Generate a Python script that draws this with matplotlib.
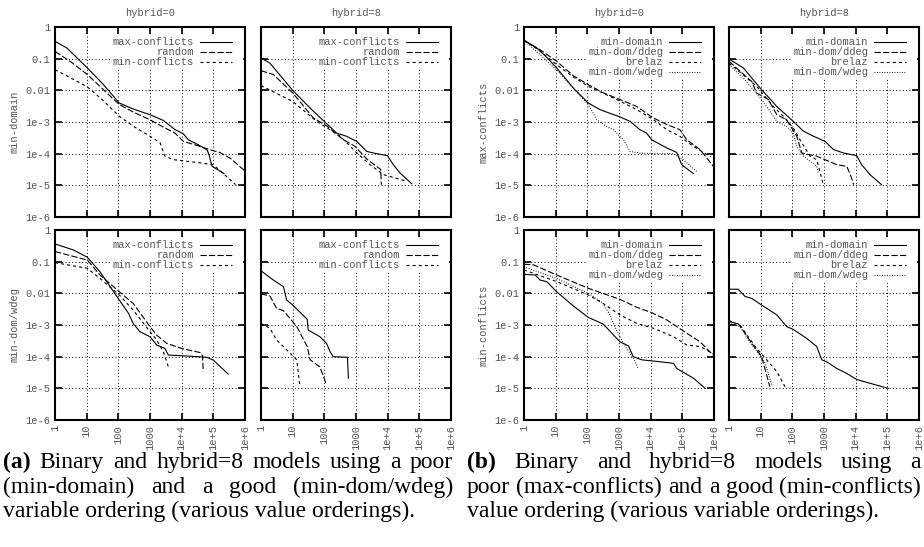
import matplotlib
matplotlib.use("Agg")
import matplotlib.pyplot as plt
import numpy as np
from matplotlib.patches import Rectangle

plt.rcParams['lines.scale_dashes'] = False

# curves, as (log10 x, log10 y) pairs
# (a) value orderings, variable ordering min-domain (top) / min-dom/wdeg (bottom)
a_dom_h0_maxc = [(0,-0.45),(0.37,-0.66),(1.02,-1.29),(1.53,-1.82),(2.03,-2.40),(2.47,-2.59),(3.0,-2.77),(3.42,-2.95),(3.79,-3.24),(4.05,-3.37),(4.21,-3.56),(4.58,-3.75),(4.81,-3.89),(4.87,-4.06),(4.96,-4.40),(5.34,-4.63)]
a_dom_h0_rand = [(0,-0.77),(0.5,-1.1),(1.02,-1.5),(1.5,-1.95),(2.03,-2.45),(2.5,-2.7),(3.0,-2.93),(3.4,-3.15),(3.79,-3.35),(4.05,-3.61),(4.58,-3.77),(5.0,-3.91),(5.2,-3.96),(5.53,-4.14),(6.0,-4.55)]
a_dom_h0_minc = [(0,-1.35),(0.37,-1.54),(1.02,-1.89),(1.5,-2.3),(2.03,-2.82),(2.5,-3.15),(3.0,-3.45),(3.32,-3.66),(3.47,-4.08),(3.74,-4.19),(4.58,-4.29),(5.0,-4.35),(5.53,-4.82),(5.7,-4.98)]

a_dom_h8_maxc = [(0,-0.98),(0.28,-1.14),(1.0,-2.0),(1.55,-2.56),(2.07,-3.05),(2.39,-3.35),(2.7,-3.45),(3.02,-3.61),(3.34,-3.93),(3.65,-4.0),(3.99,-4.06),(4.18,-4.35),(4.39,-4.61),(4.76,-4.95)]
a_dom_h8_rand = [(0,-1.38),(0.39,-1.5),(1.0,-2.08),(1.65,-2.87),(2.07,-3.12),(2.6,-3.56),(2.97,-3.77),(3.34,-4.17),(3.65,-4.4),(3.78,-4.5),(3.8,-4.98)]
a_dom_h8_minc = [(0,-1.85),(1.0,-2.35),(1.76,-2.98),(2.5,-3.45),(3.03,-3.98),(3.45,-4.35),(3.86,-4.66),(4.6,-4.87)]

a_wdeg_h0_maxc = [(0,-0.44),(0.58,-0.63),(1.02,-0.86),(1.42,-1.32),(2.03,-2.21),(2.32,-2.63),(2.47,-2.95),(2.68,-3.21),(3.0,-3.37),(3.21,-3.63),(3.47,-3.74),(3.58,-3.95),(4.0,-3.97),(4.79,-4.02),(5.0,-4.11),(5.47,-4.55)]
a_wdeg_h0_rand = [(0,-0.68),(1.02,-0.95),(1.42,-1.42),(2.03,-1.95),(2.47,-2.32),(3.0,-3.05),(3.21,-3.32),(3.53,-3.58),(4.0,-3.74),(4.58,-3.87),(4.66,-3.97),(4.68,-4.47)]
a_wdeg_h0_minc = [(0,-1.03),(1.02,-1.21),(1.42,-1.53),(2.03,-2.05),(2.47,-2.53),(3.0,-3.21),(3.21,-3.47),(3.42,-3.84),(3.58,-4.32)]

a_wdeg_h8_maxc = [(0,-1.29),(0.39,-1.58),(0.71,-1.79),(0.81,-2.21),(1.0,-2.37),(1.46,-2.82),(1.49,-3.16),(1.86,-3.37),(2.07,-3.58),(2.18,-3.84),(2.28,-4.0),(2.73,-4.02),(2.76,-4.68)]
a_wdeg_h8_rand = [(0,-2.02),(0.28,-2.08),(0.49,-2.47),(0.71,-2.55),(1.13,-3.05),(1.46,-3.68),(1.55,-4.1),(1.86,-4.32),(2.05,-4.84)]
a_wdeg_h8_minc = [(0,-2.95),(0.28,-3.1),(0.49,-3.47),(0.92,-3.89),(1.13,-4.1),(1.23,-4.95)]

# (b) variable orderings, value ordering max-conflicts (top) / min-conflicts (bottom)
b_maxc_h0_dom = [(0,-0.42),(0.4,-0.66),(0.74,-0.98),(1.03,-1.29),(1.56,-1.93),(2.03,-2.4),(2.4,-2.61),(3.03,-2.84),(3.35,-2.98),(3.66,-3.24),(3.87,-3.35),(4.03,-3.56),(4.51,-3.82),(4.82,-3.96),(4.87,-4.08),(4.98,-4.35),(5.35,-4.63)]
b_maxc_h0_ddeg = [(0,-0.42),(0.51,-0.72),(1.03,-1.08),(1.56,-1.54),(2.03,-1.82),(2.5,-2.08),(3.03,-2.29),(3.56,-2.51),(4.08,-2.87),(4.51,-3.08),(4.92,-3.24),(5.14,-3.56),(5.56,-3.87),(5.98,-4.4)]
b_maxc_h0_brelaz = [(0,-0.42),(0.51,-0.76),(1.03,-1.19),(1.56,-1.58),(2.03,-1.87),(3.03,-2.34),(3.56,-2.61),(4.08,-2.92),(4.51,-3.24),(4.92,-3.45),(5.35,-3.77),(5.9,-4.1)]
b_maxc_h0_wdeg = [(0,-0.42),(1.03,-1.35),(2.03,-2.45),(2.3,-2.93),(2.61,-3.14),(2.82,-3.24),(3.14,-3.56),(3.35,-3.93),(3.66,-3.98),(4.08,-4.0),(4.72,-4.0),(5.03,-4.19),(5.45,-4.56)]

b_maxc_h8_dom = [(0,-1.01),(0.45,-1.29),(1.03,-1.98),(1.51,-2.51),(2.03,-2.98),(2.35,-3.29),(2.67,-3.45),(3.03,-3.61),(3.3,-3.87),(3.62,-3.98),(4.03,-4.06),(4.19,-4.35),(4.45,-4.66),(4.82,-4.98)]
b_maxc_h8_ddeg = [(0,-1.08),(0.35,-1.4),(0.72,-1.72),(0.87,-2.08),(1.24,-2.29),(1.51,-2.77),(1.82,-2.93),(2.14,-3.45),(2.3,-3.98),(2.77,-4.08),(3.41,-4.35),(3.72,-4.4),(3.83,-4.66),(3.94,-4.98)]
b_maxc_h8_brelaz = [(0,-1.14),(0.45,-1.51),(0.87,-1.87),(1.40,-2.51),(1.72,-2.82),(2.03,-3.19),(2.24,-3.56),(2.56,-4.08),(2.77,-4.19),(2.98,-4.98)]
b_maxc_h8_wdeg = [(0,-1.19),(0.45,-1.61),(1.03,-2.29),(1.51,-2.98),(1.82,-3.14),(2.03,-3.35),(2.14,-3.77),(2.35,-4.08),(2.77,-4.4),(2.82,-4.61)]

b_minc_h0_dom = [(0,-1.4),(0.35,-1.42),(0.51,-1.58),(0.72,-1.63),(1.03,-1.95),(1.56,-2.4),(2.03,-2.76),(2.5,-2.97),(3.03,-3.53),(3.3,-3.66),(3.45,-4.0),(3.72,-4.1),(4.29,-4.16),(4.72,-4.21),(4.82,-4.37),(5.35,-4.68),(5.72,-5.0)]
b_minc_h0_ddeg = [(0,-1.08),(0.3,-1.1),(1.03,-1.42),(2.03,-1.84),(3.03,-2.19),(3.56,-2.44),(4.03,-2.61),(4.51,-2.84),(5.14,-3.26),(5.56,-3.53),(6.0,-3.98)]
b_minc_h0_brelaz = [(0,-1.26),(1.03,-1.63),(2.03,-2.05),(2.5,-2.32),(3.03,-2.68),(3.56,-2.95),(4.08,-3.1),(4.72,-3.37),(5.14,-3.63),(5.56,-3.68),(6.0,-3.92)]
b_minc_h0_wdeg = [(0,-1.16),(1.03,-1.53),(2.03,-2.0),(2.5,-2.32),(2.71,-2.68),(2.92,-3.16),(3.14,-3.58),(3.45,-4.05),(3.61,-4.37)]

b_minc_h8_dom = [(0,-1.87),(0.29,-1.87),(0.51,-2.1),(0.72,-2.16),(1.03,-2.37),(1.51,-2.68),(1.82,-3.05),(2.03,-3.14),(2.45,-3.42),(2.77,-3.68),(2.93,-4.1),(3.08,-4.16),(3.4,-4.37),(3.72,-4.53),(4.03,-4.72),(4.45,-4.84),(5.03,-5.0)]
b_minc_h8_ddeg = [(0,-2.89),(0.29,-2.96),(0.51,-3.26),(0.72,-3.58),(1.03,-4.0),(1.29,-4.95)]
b_minc_h8_brelaz = [(0,-2.86),(0.35,-3.0),(0.56,-3.31),(0.87,-3.73),(1.19,-4.1),(1.51,-4.47),(1.77,-4.95)]
b_minc_h8_wdeg = [(0,-2.93),(0.35,-3.05),(0.61,-3.47),(0.93,-3.89),(1.14,-4.21),(1.24,-4.52),(1.35,-4.9)]

value_orders = ["max-conflicts", "random", "min-conflicts"]
var_orders = ["min-domain", "min-dom/ddeg", "brelaz", "min-dom/wdeg"]
xticks = [1, 10, 100, 1000, 1e4, 1e5, 1e6]
xlabels = ["1", "10", "100", "1000", "1e+4", "1e+5", "1e+6"]
yticks = [1e-6, 1e-5, 1e-4, 1e-3, 0.01, 0.1, 1]
ylabels = ["1e-6", "1e-5", "1e-4", "1e-3", "0.01", "0.1", "1"]

cap_a = [["(a)", "Binary", "and", "hybrid=8", "models", "using", "a", "poor"],
         ["(min-domain)", "and", "a", "good", "(min-dom/wdeg)"],
         "variable ordering (various value orderings)."]
cap_b = [["(b)", "Binary", "and", "hybrid=8", "models", "using", "a"],
         ["poor", "(max-conflicts)", "and", "a", "good", "(min-conflicts)"],
         "value ordering (various variable orderings)."]

LONG = (0, (4.5, 1.6))
SHORT = (0, (2.2, 2.2))
DOT = (0, (0.6, 1.2))
style = {"max-conflicts": "-", "random": LONG, "min-conflicts": SHORT,
         "min-domain": "-", "min-dom/ddeg": LONG, "brelaz": SHORT, "min-dom/wdeg": DOT}

mono = ["Liberation Mono", "DejaVu Sans Mono"]
serif = ["Liberation Serif", "DejaVu Serif"]
tc = "#555555"
fs = 7.5
W, H = 924, 547
S = 190

fig = plt.figure(figsize=(W/100, H/100), dpi=100)

# left px, top px, curves, key labels, ylabel, title, left column?, bottom row?
panels = [
    (55, 27, [a_dom_h0_maxc, a_dom_h0_rand, a_dom_h0_minc], value_orders, "min-domain", "hybrid=0", True, False),
    (261, 27, [a_dom_h8_maxc, a_dom_h8_rand, a_dom_h8_minc], value_orders, None, "hybrid=8", False, False),
    (55, 230, [a_wdeg_h0_maxc, a_wdeg_h0_rand, a_wdeg_h0_minc], value_orders, "min-dom/wdeg", None, True, True),
    (261, 230, [a_wdeg_h8_maxc, a_wdeg_h8_rand, a_wdeg_h8_minc], value_orders, None, None, False, True),
    (524, 27, [b_maxc_h0_dom, b_maxc_h0_ddeg, b_maxc_h0_brelaz, b_maxc_h0_wdeg], var_orders, "max-conflicts", "hybrid=0", True, False),
    (729, 27, [b_maxc_h8_dom, b_maxc_h8_ddeg, b_maxc_h8_brelaz, b_maxc_h8_wdeg], var_orders, None, "hybrid=8", False, False),
    (524, 230, [b_minc_h0_dom, b_minc_h0_ddeg, b_minc_h0_brelaz, b_minc_h0_wdeg], var_orders, "min-conflicts", None, True, True),
    (729, 230, [b_minc_h8_dom, b_minc_h8_ddeg, b_minc_h8_brelaz, b_minc_h8_wdeg], var_orders, None, None, False, True),
]


def key(ax, labels):
    cw = fs*100/72*0.6/S
    xr, x0, x1 = 0.732, 0.763, 0.932
    ytop, dy = 0.921, 10/S
    n = max(len(l) for l in labels)
    left = xr - n*cw - 0.008
    bottom = ytop - (len(labels)-1)*dy - 0.035
    ax.add_patch(Rectangle((left, bottom), 0.99-left, ytop+0.035-bottom, transform=ax.transAxes,
                           fc="white", ec="none", zorder=3))
    for i, l in enumerate(labels):
        y = ytop - i*dy
        ax.text(xr, y, l, transform=ax.transAxes, ha="right", va="center", fontsize=fs,
                family=mono, color=tc, zorder=4)
        ax.plot([x0, x1], [y, y], transform=ax.transAxes, color="k", lw=0.8,
                ls=style[l], zorder=4)


for left, top, curves, labels, ylab, title, lcol, brow in panels:
    ax = fig.add_axes([left/W, 1-(top+S)/H, S/W, S/H])
    ax.set_xscale("log")
    ax.set_yscale("log")
    for pts, lab in zip(curves, labels):
        p = np.array(pts)
        ax.plot(10**p[:, 0], 10**p[:, 1], color="k", lw=0.8, ls=style[lab], zorder=2)
    ax.set_xlim(1, 1e6)
    ax.set_ylim(1e-6, 1)
    ax.set_xticks(xticks, xlabels if brow else [])
    ax.set_yticks(yticks, ylabels if lcol else [])
    ax.minorticks_off()
    ax.tick_params(direction="in", length=5, width=1.2, top=True, right=True,
                   labelsize=fs, labelcolor=tc)
    ax.tick_params(axis="y", pad=3.5)
    ax.tick_params(axis="x", pad=3.5)
    for t in ax.get_xticklabels():
        t.set_rotation(90)
        t.set_family(mono)
    for t in ax.get_yticklabels():
        t.set_family(mono)
    ax.set_axisbelow(True)
    ax.grid(True, color="k", lw=0.7, ls=(0, (0.7, 1.7)))
    for sp in ax.spines.values():
        sp.set_linewidth(1.5)
    key(ax, labels)
    if title:
        fig.text((left+S/2)/W, 1-13/H, title, ha="center", va="center", fontsize=fs,
                 family=mono, color=tc)
    if ylab:
        fig.text((left-40)/W, 1-(top+S/2)/H, ylab, rotation=90, ha="center", va="center",
                 fontsize=fs, family=mono, color=tc)

# captions, justified like the LaTeX source
cfs = 17
r = fig.canvas.get_renderer()


def justified(words, x0, x1, ybase):
    ts = []
    for i, w in enumerate(words):
        bold = i == 0 and w.startswith("(") and len(w) == 3
        ts.append(fig.text(0, 1-ybase/H, w, fontsize=cfs, family=serif, va="baseline",
                           fontweight="bold" if bold else "normal"))
    ws = [t.get_window_extent(r).width for t in ts]
    gap = (x1-x0-sum(ws))/(len(ws)-1)
    x = x0
    for t, w in zip(ts, ws):
        t.set_x(x/W)
        x += w + gap


for cap, x0, x1 in [(cap_a, 3, 453), (cap_b, 467, 921)]:
    justified(cap[0], x0, x1, 468)
    justified(cap[1], x0, x1, 493)
    fig.text(x0/W, 1-517/H, cap[2], fontsize=cfs, family=serif, va="baseline")

fig.savefig("out.png", dpi=100)
